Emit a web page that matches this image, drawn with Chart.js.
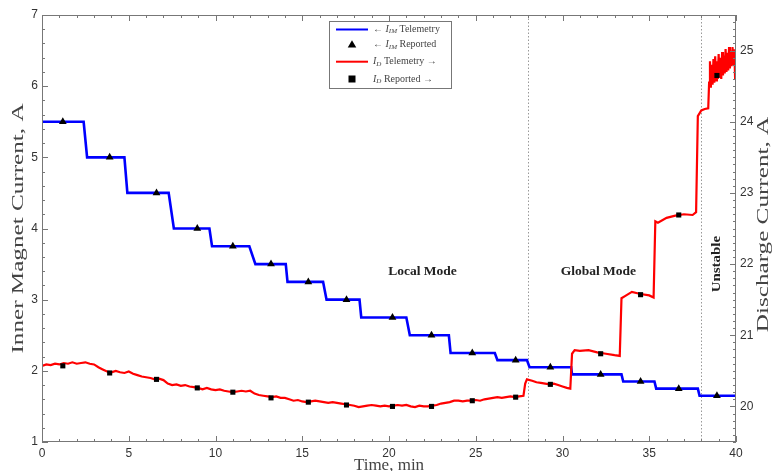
<!DOCTYPE html>
<html>
<head>
<meta charset="utf-8">
<script src="https://cdn.jsdelivr.net/npm/chart.js@4.4.0/dist/chart.umd.min.js"></script>
<style>
  body { margin: 0; background: #fff; }
  #wrap { width: 775px; height: 471px; position: relative; }
</style>
</head>
<body>
<div id="wrap"><canvas id="chart"></canvas></div>
<script>
// tick labels
const timeTicks = [0, 5, 10, 15, 20, 25, 30, 35, 40];
const leftTicks = [1, 2, 3, 4, 5, 6, 7];
const rightTicks = [20, 21, 22, 23, 24, 25];

// inner magnet telemetry (stepped), A
const imTime = [0, 2.4, 2.6, 4.75, 4.92, 7.3, 7.6, 9.65, 9.8, 11.95, 12.3, 14.05, 14.15, 16.2, 16.4,
  18.3, 18.4, 21.0, 21.2, 23.45, 23.55, 26.1, 26.25, 27.95, 28.1, 30.5, 30.55, 33.4, 33.5,
  35.3, 35.4, 37.8, 37.9, 40];
const imCurrent = [5.5, 5.5, 5.0, 5.0, 4.5, 4.5, 4.0, 4.0, 3.75, 3.75, 3.5, 3.5, 3.25, 3.25, 3.0,
  3.0, 2.75, 2.75, 2.5, 2.5, 2.25, 2.25, 2.15, 2.15, 2.05, 2.05, 1.95, 1.95, 1.85,
  1.85, 1.75, 1.75, 1.65, 1.65];

// reported points
const repTime = [1.2, 3.9, 6.6, 8.95, 11.0, 13.2, 15.35, 17.55, 20.2, 22.45, 24.8, 27.3, 29.3, 32.2, 34.5, 36.7, 38.9];
const imReported = [5.5, 5.0, 4.5, 4.0, 3.75, 3.5, 3.25, 3.0, 2.75, 2.5, 2.25, 2.15, 2.05, 1.95, 1.85, 1.75, 1.65];
const dReported = [20.57, 20.47, 20.38, 20.26, 20.20, 20.12, 20.06, 20.02, 20.0, 20.0, 20.08, 20.13, 20.31, 20.74, 21.57, 22.69, 24.65];

// discharge telemetry, A
const dTime = [0, 0.25, 0.5, 0.75, 1.0, 1.25, 1.5, 1.75, 2.0, 2.25, 2.5, 2.75, 3.0, 3.25, 3.5, 3.75,
  4.0, 4.25, 4.5, 4.75, 5.0, 5.25, 5.5, 5.75, 6.0, 6.25, 6.5, 6.75, 7.0, 7.25, 7.5, 7.75,
  8.0, 8.25, 8.5, 8.75, 9.0, 9.25, 9.5, 9.75, 10.0, 10.25, 10.5, 10.75, 11.0, 11.25, 11.5, 11.75,
  12.0, 12.25, 12.5, 12.75, 13.0, 13.25, 13.5, 13.75, 14.0, 14.25, 14.5, 14.75, 15.0, 15.25, 15.5, 15.75,
  16.0, 16.25, 16.5, 16.75, 17.0, 17.25, 17.5, 17.75, 18.0, 18.25, 18.5, 18.75, 19.0, 19.25, 19.5, 19.75,
  20.0, 20.25, 20.5, 20.75, 21.0, 21.25, 21.5, 21.75, 22.0, 22.25, 22.5, 22.75, 23.0, 23.25, 23.5, 23.75,
  24.0, 24.25, 24.5, 24.75, 25.0, 25.25, 25.5, 25.75, 26.0, 26.25, 26.5, 26.75, 27.0, 27.25, 27.5, 27.75,
  27.85, 27.95, 28.25, 28.5, 28.75, 29.0, 29.25, 29.5, 29.75, 30.0, 30.25, 30.45,
  30.55, 30.7, 31.0, 31.5, 32.0, 32.5, 33.0, 33.3,
  33.4, 33.6, 34.0, 34.5, 35.0, 35.25,
  35.35, 35.5, 36.0, 36.5, 37.0, 37.5, 37.7,
  37.8, 38.0, 38.2, 38.4,
  38.45, 38.5, 38.55, 38.6, 38.65, 38.7, 38.75, 38.8, 38.85, 38.9, 38.95, 39.0, 39.05, 39.1, 39.15, 39.2,
  39.25, 39.3, 39.35, 39.4, 39.45, 39.5, 39.55, 39.6, 39.65, 39.7, 39.75, 39.8, 39.85, 39.9, 39.95, 40.0];
const dCurrent = [20.57, 20.59, 20.58, 20.60, 20.59, 20.61, 20.60, 20.62, 20.60, 20.61, 20.62, 20.60, 20.59, 20.55, 20.52, 20.49,
  20.48, 20.50, 20.48, 20.47, 20.49, 20.46, 20.44, 20.42, 20.41, 20.40, 20.38, 20.39, 20.37, 20.32, 20.30, 20.31,
  20.29, 20.30, 20.28, 20.27, 20.26, 20.24, 20.26, 20.24, 20.23, 20.24, 20.22, 20.21, 20.20, 20.21, 20.22, 20.21,
  20.22, 20.18, 20.16, 20.15, 20.14, 20.13, 20.14, 20.12, 20.12, 20.10, 20.08, 20.09, 20.07, 20.06, 20.07, 20.08,
  20.07, 20.06, 20.05, 20.06, 20.05, 20.04, 20.03, 20.02, 20.01, 19.99, 20.00, 20.01, 20.02, 20.01, 20.00, 20.01,
  20.00, 20.01, 20.02, 20.01, 20.02, 20.00, 19.99, 20.01, 20.00, 20.00, 20.01, 20.02, 20.04, 20.05, 20.06, 20.08,
  20.08, 20.07, 20.08, 20.08, 20.09, 20.08, 20.10, 20.11, 20.12, 20.13, 20.12, 20.13, 20.14, 20.13, 20.14, 20.15,
  20.32, 20.38, 20.36, 20.34, 20.33, 20.32, 20.31, 20.32, 20.30, 20.28, 20.26, 20.25,
  20.74, 20.79, 20.78, 20.79, 20.76, 20.74, 20.72, 20.71,
  21.52, 21.55, 21.61, 21.58, 21.56, 21.53,
  22.60, 22.58, 22.65, 22.68, 22.70, 22.69, 22.73,
  24.08, 24.16, 24.18, 24.19,
  24.55, 24.85, 24.48, 24.80, 24.52, 24.88, 24.55, 24.92, 24.58, 24.85, 24.60, 24.95, 24.62, 24.90, 24.60, 24.98,
  24.65, 24.93, 24.68, 25.02, 24.70, 24.97, 24.72, 25.05, 24.75, 25.00, 24.78, 25.05, 24.80, 25.02, 24.60, 24.95];

// mode boundaries and labels
const modeBounds = [28, 38];
const modeLabels = ['Local Mode', 'Global Mode'];
const modeLabelAt = [[21.93, 3.39], [32.07, 3.39]];
const unstableAt = [38.9, 3.5];

const pts = (xs, ys) => xs.map((x, i) => ({ x: x, y: ys[i] }));

function drawTri(ctx, x, y, r) {
  ctx.beginPath();
  ctx.moveTo(x, y - r);
  ctx.lineTo(x + r * 0.95, y + r * 0.6);
  ctx.lineTo(x - r * 0.95, y + r * 0.6);
  ctx.closePath();
  ctx.fill();
}

function richText(ctx, parts, x, y) {
  parts.forEach(p => {
    ctx.font = p.f;
    ctx.fillText(p.t, x, y + (p.dy || 0));
    x += ctx.measureText(p.t).width;
  });
}

function vTitle(ctx, text, x, y, stretch) {
  ctx.save();
  ctx.translate(x, y);
  ctx.rotate(-Math.PI / 2);
  ctx.scale(stretch, 1);
  ctx.textAlign = 'center';
  ctx.textBaseline = 'middle';
  ctx.fillText(text, 0, 0);
  ctx.restore();
}

const decor = {
  id: 'decor',
  beforeDatasetsDraw(chart) {
    const { ctx, chartArea: a, scales } = chart;
    ctx.save();
    ctx.strokeStyle = '#999';
    ctx.lineWidth = 1;
    ctx.setLineDash([1.5, 2]);
    modeBounds.forEach(t => {
      const x = Math.round(scales.x.getPixelForValue(t)) + 0.5;
      ctx.beginPath();
      ctx.moveTo(x, a.top);
      ctx.lineTo(x, a.bottom);
      ctx.stroke();
    });
    ctx.restore();
  },
  afterDraw(chart) {
    const { ctx, chartArea: a, scales } = chart;
    const sx = scales.x, sy = scales.y, sy2 = scales.y2;
    ctx.save();

    // frame
    ctx.strokeStyle = '#777';
    ctx.lineWidth = 1;
    ctx.strokeRect(a.left + 0.5, a.top + 0.5, a.right - a.left - 1, a.bottom - a.top - 1);

    // inward ticks
    ctx.beginPath();
    for (let i = 0; i <= 40; i++) {
      const x = Math.round(sx.getPixelForValue(i)) + 0.5;
      const len = i % 5 === 0 ? 6 : 3;
      ctx.moveTo(x, a.bottom); ctx.lineTo(x, a.bottom - len);
      ctx.moveTo(x, a.top); ctx.lineTo(x, a.top + len);
    }
    for (let i = 0; i <= 30; i++) {
      const y = Math.round(sy.getPixelForValue(1 + i * 0.2)) + 0.5;
      const len = i % 5 === 0 ? 6 : 3;
      ctx.moveTo(a.left, y); ctx.lineTo(a.left + len, y);
    }
    for (let i = 0; i <= 60; i++) {
      const y = Math.round(sy2.getPixelForValue(19.5 + i * 0.1)) + 0.5;
      const len = i % 10 === 5 ? 6 : 3;
      ctx.moveTo(a.right, y); ctx.lineTo(a.right - len, y);
    }
    ctx.stroke();

    // mode labels
    ctx.fillStyle = '#222';
    ctx.font = 'bold 13.5px "Liberation Serif"';
    ctx.textAlign = 'center';
    ctx.textBaseline = 'middle';
    modeLabels.forEach((s, i) => {
      ctx.fillText(s, sx.getPixelForValue(modeLabelAt[i][0]), sy.getPixelForValue(modeLabelAt[i][1]));
    });
    ctx.font = 'bold 13px "Liberation Serif"';
    vTitle(ctx, 'Unstable', sx.getPixelForValue(unstableAt[0]), sy.getPixelForValue(unstableAt[1]), 1.15);

    // axis titles (vertical)
    ctx.fillStyle = '#444';
    ctx.font = '17px "Liberation Serif"';
    vTitle(ctx, 'Inner Magnet Current, A', 19, (a.top + a.bottom) / 2, 1.48);
    vTitle(ctx, 'Discharge Current, A', 764, (a.top + a.bottom) / 2 - 4, 1.48);

    // legend box
    const lx = 329, ly = 21, lw = 122, lh = 67;
    ctx.fillStyle = '#fff';
    ctx.fillRect(lx, ly, lw, lh);
    ctx.strokeStyle = '#777';
    ctx.strokeRect(lx + 0.5, ly + 0.5, lw, lh);
    const rows = [29.5, 44.7, 61.7, 79];
    ctx.lineWidth = 2;
    ctx.strokeStyle = '#0000ff';
    ctx.beginPath(); ctx.moveTo(336, rows[0]); ctx.lineTo(368, rows[0]); ctx.stroke();
    ctx.strokeStyle = '#ff0000';
    ctx.beginPath(); ctx.moveTo(336, rows[2]); ctx.lineTo(368, rows[2]); ctx.stroke();
    ctx.fillStyle = '#000';
    drawTri(ctx, 352, rows[1], 4.5);
    ctx.fillRect(348.5, rows[3] - 3.5, 7, 7);

    ctx.fillStyle = '#444';
    ctx.textAlign = 'left';
    ctx.textBaseline = 'middle';
    const n = '10px "Liberation Serif"', it = 'italic 10px "Liberation Serif"', sub = 'italic 7px "Liberation Serif"';
    richText(ctx, [{ t: '\u2190 ', f: n }, { t: 'I', f: it }, { t: 'IM', f: sub, dy: 2 }, { t: ' Telemetry', f: n }], 373, rows[0]);
    richText(ctx, [{ t: '\u2190 ', f: n }, { t: 'I', f: it }, { t: 'IM', f: sub, dy: 2 }, { t: ' Reported', f: n }], 373, rows[1]);
    richText(ctx, [{ t: 'I', f: it }, { t: 'D', f: sub, dy: 2 }, { t: ' Telemetry \u2192', f: n }], 373, rows[2]);
    richText(ctx, [{ t: 'I', f: it }, { t: 'D', f: sub, dy: 2 }, { t: ' Reported \u2192', f: n }], 373, rows[3]);

    ctx.restore();
  }
};

const tickFont = { family: '"Liberation Sans", Arial, sans-serif', size: 12 };

new Chart(document.getElementById('chart'), {
  type: 'line',
  data: {
    datasets: [
      {
        label: 'I_D Reported',
        data: pts(repTime, dReported),
        yAxisID: 'y2',
        showLine: false,
        pointStyle: 'rect',
        pointRadius: 3.6,
        backgroundColor: '#000',
        borderColor: '#000',
        borderWidth: 0,
        order: 0
      },
      {
        label: 'I_IM Reported',
        data: pts(repTime, imReported),
        yAxisID: 'y',
        showLine: false,
        pointStyle: 'triangle',
        pointRadius: 4.5,
        backgroundColor: '#000',
        borderColor: '#000',
        borderWidth: 0,
        order: 1
      },
      {
        label: 'I_D Telemetry',
        data: pts(dTime, dCurrent),
        yAxisID: 'y2',
        borderColor: '#ff0000',
        borderWidth: 2.2,
        pointRadius: 0,
        tension: 0,
        order: 2
      },
      {
        label: 'I_IM Telemetry',
        data: pts(imTime, imCurrent),
        yAxisID: 'y',
        borderColor: '#0000ff',
        borderWidth: 2.6,
        pointRadius: 0,
        tension: 0,
        order: 3
      }
    ]
  },
  options: {
    responsive: true,
    maintainAspectRatio: false,
    animation: false,
    devicePixelRatio: 1,
    layout: { padding: { top: 15, left: 0, right: 0, bottom: 0 } },
    plugins: { legend: { display: false }, tooltip: { enabled: false } },
    scales: {
      x: {
        type: 'linear',
        min: 0,
        max: 40,
        afterBuildTicks: s => { s.ticks = timeTicks.map(v => ({ value: v })); },
        afterFit: s => { s.height = 29; },
        grid: { display: false, drawTicks: false },
        border: { display: false },
        ticks: { padding: 4, font: tickFont, color: '#333', maxRotation: 0 },
        title: {
          display: true,
          text: 'Time, min',
          font: { family: '"Liberation Serif"', size: 17 },
          color: '#444',
          padding: { top: 0, bottom: -5 }
        }
      },
      y: {
        position: 'left',
        min: 1,
        max: 7,
        afterBuildTicks: s => { s.ticks = leftTicks.map(v => ({ value: v })); },
        afterFit: s => { s.width = 42; },
        grid: { display: false, drawTicks: false },
        border: { display: false },
        ticks: { padding: 4, font: tickFont, color: '#333' }
      },
      y2: {
        position: 'right',
        min: 19.5,
        max: 25.5,
        afterBuildTicks: s => { s.ticks = rightTicks.map(v => ({ value: v })); },
        afterFit: s => { s.width = 39; },
        grid: { display: false, drawTicks: false },
        border: { display: false },
        ticks: { padding: 4, font: tickFont, color: '#333' }
      }
    }
  },
  plugins: [decor]
});
</script>
</body>
</html>
